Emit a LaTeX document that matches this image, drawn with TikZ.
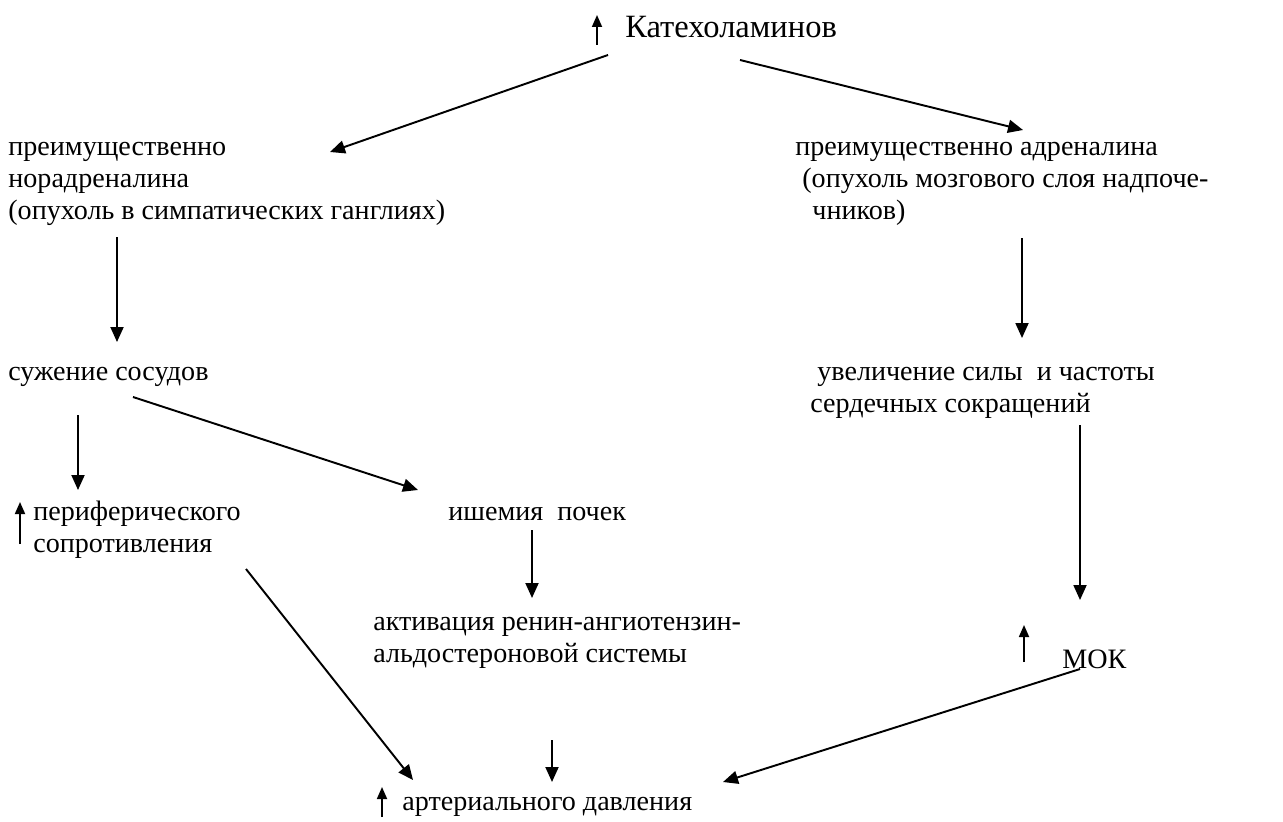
\documentclass[tikz,border=0pt]{standalone}
\usepackage{fontspec}
\setmainfont{Liberation Serif}
\usetikzlibrary{arrows.meta}

\begin{document}
\begin{tikzpicture}[
  x=0.02cm, y=-0.02cm,
  txt/.style={anchor=base west, inner sep=0pt, align=left, font=\fontsize{16}{18.2}\selectfont},
  title/.style={anchor=base west, inner sep=0pt, font=\fontsize{18.5}{21}\selectfont},
  arrow/.style={-{Triangle[length=0.3cm, width=0.26cm]}, line width=1.1pt},
  uparrow/.style={-{Triangle[length=0.24cm, width=0.2cm]}, line width=1pt}
]
\useasboundingbox (0,0) rectangle (1283,821);

% Top - catecholamines
\node[title] (kat) at (625,38) {Катехоламинов};

% Left branch (base = last line)
\node[txt] (nor) at (8,219) {преимущественно\\норадреналина\\(опухоль в симпатических ганглиях)};
\node[txt] (suzh) at (8,380) {сужение сосудов};
\node[txt] (peri) at (33,552) {периферического\\сопротивления};
\node[txt] (ishem) at (448,520) {ишемия\ \ почек};
\node[txt] (aktiv) at (373,662) {активация ренин-ангиотензин-\\альдостероновой системы};

% Right branch
\node[txt] (adr) at (795,219) {преимущественно адреналина\\\hspace{0.14cm}(опухоль мозгового слоя надпоче-\\\hspace{0.34cm}чников)};
\node[txt] (uvel) at (810,412) {\hspace{0.14cm}увеличение силы\ \ и частоты\\сердечных сокращений};
\node[txt] (mok) at (1062,668) {МОК};

% Bottom - result
\node[txt] (art) at (402,810) {артериального давления};

% Increase marks
\draw[uparrow] ([shift={(-28,7)}]kat.base west) -- ([shift={(-28,-23)}]kat.base west);
\draw[uparrow] ([shift={(-13,-8)}]peri.base west) -- ([shift={(-13,-50)}]peri.base west);
\draw[uparrow] ([shift={(-38,-6)}]mok.base west) -- ([shift={(-38,-43)}]mok.base west);
\draw[uparrow] ([shift={(-20,7)}]art.base west) -- ([shift={(-20,-23)}]art.base west);

% Arrows
\draw[arrow] ([shift={(-17,17)}]kat.base west) -- ([shift={(322,-67)}]nor.base west);
\draw[arrow] ([shift={(115,22)}]kat.base west) -- ([shift={(228,-89)}]adr.base west);
\draw[arrow] ([shift={(109,18)}]nor.base west) -- ([shift={(109,-38)}]suzh.base west);
\draw[arrow] ([shift={(227,19)}]adr.base west) -- ([shift={(212,-74)}]uvel.base west);
\draw[arrow] ([shift={(125,17)}]suzh.base west) -- ([shift={(-30,-30)}]ishem.base west);
\draw[arrow] ([shift={(70,35)}]suzh.base west) -- ([shift={(45,-62)}]peri.base west);
\draw[arrow] ([shift={(270,13)}]uvel.base west) -- ([shift={(18,-68)}]mok.base west);
\draw[arrow] ([shift={(84,10)}]ishem.base west) -- ([shift={(159,-64)}]aktiv.base west);
\draw[arrow] ([shift={(213,17)}]peri.base west) -- ([shift={(11,-30)}]art.base west);
\draw[arrow] ([shift={(179,78)}]aktiv.base west) -- ([shift={(150,-28)}]art.base west);
\draw[arrow] ([shift={(18,1)}]mok.base west) -- ([shift={(321,-28)}]art.base west);

\end{tikzpicture}
\end{document}
